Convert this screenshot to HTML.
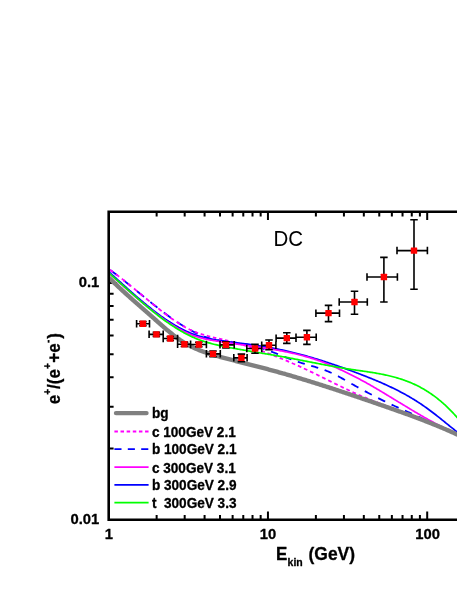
<!DOCTYPE html>
<html><head><meta charset="utf-8"><title>DC positron fraction</title>
<style>
html,body{margin:0;padding:0;background:#fff;}
body{width:457px;height:591px;overflow:hidden;font-family:"Liberation Sans",sans-serif;}
svg{display:block;}
text{font-family:"Liberation Sans",sans-serif;fill:#000;}
.tk,.lg,.ax,.ax2,.sub,.sup{stroke:#000;stroke-width:0.3px;stroke-linejoin:round;}
.tk{font-size:14.8px;font-weight:bold;}
.lg{font-size:13.6px;font-weight:bold;}
.ax{font-size:17px;font-weight:bold;}
.sub{font-size:10.5px;font-weight:bold;}
.sup{font-size:10px;font-weight:bold;}
.ax2{font-size:17.45px;font-weight:bold;}
.dc{font-size:20.5px;}
</style></head><body>
<svg width="457" height="591" viewBox="0 0 457 591" style="transform:translateZ(0);will-change:transform">
<rect width="457" height="591" fill="#fff"/>
<path d="M156.64 519.80 v-4.90 M156.64 211.70 v4.90 M184.68 519.80 v-4.90 M184.68 211.70 v4.90 M204.58 519.80 v-4.90 M204.58 211.70 v4.90 M220.01 519.80 v-4.90 M220.01 211.70 v4.90 M232.62 519.80 v-4.90 M232.62 211.70 v4.90 M243.28 519.80 v-4.90 M243.28 211.70 v4.90 M252.52 519.80 v-4.90 M252.52 211.70 v4.90 M260.66 519.80 v-4.90 M260.66 211.70 v4.90 M267.95 519.80 v-8.40 M267.95 211.70 v8.40 M315.89 519.80 v-4.90 M315.89 211.70 v4.90 M343.93 519.80 v-4.90 M343.93 211.70 v4.90 M363.83 519.80 v-4.90 M363.83 211.70 v4.90 M379.26 519.80 v-4.90 M379.26 211.70 v4.90 M391.87 519.80 v-4.90 M391.87 211.70 v4.90 M402.53 519.80 v-4.90 M402.53 211.70 v4.90 M411.77 519.80 v-4.90 M411.77 211.70 v4.90 M419.91 519.80 v-4.90 M419.91 211.70 v4.90 M427.20 519.80 v-8.40 M427.20 211.70 v8.40 M108.70 448.52 h4.90 M108.70 406.82 h4.90 M108.70 377.23 h4.90 M108.70 354.28 h4.90 M108.70 335.53 h4.90 M108.70 319.68 h4.90 M108.70 305.95 h4.90 M108.70 293.84 h4.90 M108.70 283.00 h8.40" stroke="#000" stroke-width="2.0" fill="none"/>
<clipPath id="cp"><rect x="108.7" y="211.7" width="353.3" height="308.1"/></clipPath>
<g clip-path="url(#cp)" fill="none" stroke-linejoin="round">
<path d="M110.2 270.05 L111.2 270.78 L112.2 271.52 L113.2 272.27 L114.2 273.03 L115.2 273.78 L116.2 274.55 L117.2 275.31 M123.6 280.32 L124.6 281.11 L125.6 281.91 L126.6 282.71 L127.6 283.52 L128.6 284.32 L129.6 285.13 L130.6 285.94 M137.0 291.15 L138.0 291.97 L139.0 292.78 L140.0 293.60 L141.0 294.42 L142.0 295.23 L143.0 296.05 L144.0 296.86 M150.4 302.04 L151.4 302.85 L152.4 303.65 L153.4 304.44 L154.4 305.24 L155.4 306.03 L156.4 306.81 L157.4 307.60 M163.8 312.52 L164.8 313.27 L165.8 314.01 L166.8 314.75 L167.8 315.49 L168.8 316.22 L169.8 316.94 L170.8 317.66 M177.2 322.08 L178.2 322.74 L179.2 323.40 L180.2 324.04 L181.2 324.68 L182.2 325.31 L183.2 325.93 L184.2 326.54 M190.6 330.24 L191.6 330.77 L192.6 331.30 L193.6 331.82 L194.6 332.33 L195.6 332.82 L196.6 333.30 L197.6 333.77 M204.0 336.48 L205.0 336.85 L206.0 337.21 L207.0 337.55 L208.0 337.88 L209.0 338.19 L210.0 338.49 L211.0 338.77 M217.4 340.26 L218.4 340.45 L219.4 340.62 L220.4 340.79 L221.4 340.95 L222.4 341.11 L223.4 341.25 L224.4 341.39 M230.8 342.18 L231.8 342.29 L232.8 342.41 L233.8 342.52 L234.8 342.63 L235.8 342.75 L236.8 342.86 L237.8 342.98 M244.2 343.86 L245.2 344.03 L246.2 344.20 L247.2 344.38 L248.2 344.57 L249.2 344.77 L250.2 344.98 L251.2 345.20 M257.6 346.89 L258.6 347.19 L259.6 347.50 L260.6 347.81 L261.6 348.14 L262.6 348.47 L263.6 348.81 L264.6 349.15 M271.0 351.49 L272.0 351.87 L273.0 352.25 L274.0 352.64 L275.0 353.03 L276.0 353.42 L277.0 353.82 L278.0 354.21 M284.4 356.75 L285.4 357.15 L286.4 357.54 L287.4 357.93 L288.4 358.32 L289.4 358.70 L290.4 359.08 L291.4 359.46 M297.8 361.75 L298.8 362.09 L299.8 362.42 L300.8 362.74 L301.8 363.06 L302.8 363.36 L303.8 363.67 L304.8 363.97 M311.2 365.82 L312.2 366.11 L313.2 366.40 L314.2 366.69 L315.2 366.98 L316.2 367.28 L317.2 367.59 L318.2 367.90 M324.6 370.06 L325.6 370.43 L326.6 370.82 L327.6 371.22 L328.6 371.63 L329.6 372.05 L330.6 372.49 L331.6 372.95 M338.0 376.16 L339.0 376.69 L340.0 377.24 L341.0 377.79 L342.0 378.35 L343.0 378.91 L344.0 379.47 L345.0 380.04 M351.4 383.70 L352.4 384.27 L353.4 384.83 L354.4 385.39 L355.4 385.95 L356.4 386.51 L357.4 387.06 L358.4 387.62 M364.8 391.10 L365.8 391.64 L366.8 392.17 L367.8 392.70 L368.8 393.23 L369.8 393.76 L370.8 394.28 L371.8 394.81 M378.2 398.09 L379.2 398.59 L380.2 399.09 L381.2 399.59 L382.2 400.08 L383.2 400.58 L384.2 401.07 L385.2 401.55 M391.6 404.61 L392.6 405.08 L393.6 405.54 L394.6 406.00 L395.6 406.46 L396.6 406.92 L397.6 407.37 L398.6 407.82 M405.0 410.67 L406.0 411.11 L407.0 411.55 L408.0 411.99 L409.0 412.43 L410.0 412.87 L411.0 413.31 L412.0 413.75 M418.4 416.64 L419.4 417.10 L420.4 417.56 L421.4 418.03 L422.4 418.51 L423.4 418.98 L424.4 419.47 L425.4 419.95 M431.8 423.19 L432.8 423.70 L433.8 424.21 L434.8 424.72 L435.8 425.22 L436.8 425.71 L437.8 426.20 L438.8 426.68" stroke="#0000ff" stroke-width="1.8"/>
<path d="M109.7 269.70 L110.8 270.50 L112.0 271.32 L113.1 272.14 M115.8 274.12 L116.9 274.97 L118.0 275.83 L119.2 276.69 M121.8 278.76 L123.0 279.65 L124.1 280.54 L125.2 281.44 M127.9 283.57 L129.0 284.49 L130.2 285.41 L131.3 286.33 M134.0 288.51 L135.1 289.44 L136.2 290.37 L137.4 291.31 M140.0 293.51 L141.2 294.45 L142.3 295.39 L143.4 296.32 M146.1 298.53 L147.3 299.46 L148.4 300.40 L149.5 301.33 M152.2 303.51 L153.3 304.43 L154.5 305.35 L155.6 306.26 M158.3 308.40 L159.4 309.30 L160.5 310.19 L161.7 311.08 M164.3 313.15 L165.5 314.01 L166.6 314.87 L167.7 315.71 M170.4 317.67 L171.5 318.48 L172.7 319.28 L173.8 320.07 M176.5 321.88 L177.6 322.62 L178.7 323.35 L179.9 324.06 M182.5 325.68 L183.7 326.34 L184.8 326.98 L185.9 327.60 M188.6 328.98 L189.7 329.53 L190.9 330.07 L192.0 330.58 M194.7 331.71 L195.8 332.16 L196.9 332.59 L198.1 333.00 M200.7 333.92 L201.9 334.29 L203.0 334.64 L204.1 334.98 M206.8 335.74 L208.0 336.05 L209.1 336.34 L210.2 336.63 M212.9 337.29 L214.0 337.56 L215.2 337.83 L216.3 338.09 M219.0 338.70 L220.1 338.96 L221.2 339.22 L222.4 339.48 M225.0 340.09 L226.2 340.36 L227.3 340.63 L228.4 340.91 M231.1 341.58 L232.2 341.87 L233.4 342.17 L234.5 342.47 M237.2 343.20 L238.3 343.52 L239.4 343.84 L240.6 344.16 M243.2 344.94 L244.4 345.28 L245.5 345.63 L246.6 345.98 M249.3 346.81 L250.4 347.17 L251.6 347.54 L252.7 347.91 M255.4 348.80 L256.5 349.18 L257.6 349.57 L258.8 349.96 M261.4 350.90 L262.6 351.30 L263.7 351.71 L264.8 352.12 M267.5 353.11 L268.7 353.53 L269.8 353.96 L270.9 354.39 M273.6 355.42 L274.7 355.87 L275.9 356.32 L277.0 356.77 M279.7 357.84 L280.8 358.31 L281.9 358.77 L283.1 359.24 M285.7 360.36 L286.9 360.84 L288.0 361.32 L289.1 361.81 M291.8 362.97 L292.9 363.47 L294.1 363.97 L295.2 364.47 M297.9 365.67 L299.0 366.18 L300.1 366.70 L301.3 367.22 M303.9 368.45 L305.1 368.98 L306.2 369.51 L307.3 370.05 M310.0 371.32 L311.1 371.86 L312.3 372.41 L313.4 372.96 M316.1 374.26 L317.2 374.81 L318.3 375.37 L319.5 375.93 M322.1 377.25 L323.3 377.81 L324.4 378.37 L325.5 378.94 M328.2 380.26 L329.4 380.83 L330.5 381.39 L331.6 381.95 M334.3 383.28 L335.4 383.84 L336.6 384.40 L337.7 384.95 M340.4 386.26 L341.5 386.81 L342.6 387.36 L343.8 387.91 M346.4 389.19 L347.6 389.73 L348.7 390.27 L349.8 390.80 M352.5 392.04 L353.6 392.57 L354.8 393.08 L355.9 393.60 M358.6 394.79 L359.7 395.29 L360.8 395.78 L362.0 396.27 M364.6 397.40 L365.8 397.87 L366.9 398.34 L368.0 398.80 M370.7 399.87 L371.8 400.31 L373.0 400.75 L374.1 401.19 M376.8 402.21 L377.9 402.64 L379.0 403.07 L380.2 403.49 M382.8 404.48 L384.0 404.90 L385.1 405.31 L386.2 405.73 M388.9 406.71 L390.1 407.13 L391.2 407.55 L392.3 407.96 M395.0 408.95 L396.1 409.38 L397.3 409.80 L398.4 410.23 M401.1 411.25 L402.2 411.68 L403.3 412.12 L404.5 412.57 M407.1 413.63 L408.3 414.09 L409.4 414.56 L410.5 415.03" stroke="#ff00ff" stroke-width="1.8"/>
<path d="M108.7 271.64 L109.7 272.55 L110.7 273.45 L111.7 274.36 L112.7 275.26 L113.7 276.17 L114.7 277.07 L115.7 277.98 L116.7 278.88 L117.7 279.79 L118.7 280.69 L119.7 281.59 L120.7 282.50 L121.7 283.40 L122.7 284.30 L123.7 285.19 L124.7 286.09 L125.7 286.99 L126.7 287.88 L127.7 288.77 L128.7 289.66 L129.7 290.54 L130.7 291.43 L131.7 292.31 L132.7 293.19 L133.7 294.06 L134.7 294.93 L135.7 295.80 L136.7 296.66 L137.7 297.52 L138.7 298.38 L139.7 299.23 L140.7 300.08 L141.7 300.92 L142.7 301.76 L143.7 302.60 L144.7 303.42 L145.7 304.25 L146.7 305.07 L147.7 305.88 L148.7 306.69 L149.7 307.49 L150.7 308.28 L151.7 309.07 L152.7 309.85 L153.7 310.63 L154.7 311.40 L155.7 312.16 L156.7 312.92 L157.7 313.66 L158.7 314.40 L159.7 315.14 L160.7 315.86 L161.7 316.58 L162.7 317.29 L163.7 317.99 L164.7 318.68 L165.7 319.37 L166.7 320.04 L167.8 320.71 L168.8 321.37 L169.8 322.01 L170.8 322.65 L171.8 323.28 L172.8 323.90 L173.8 324.51 L174.8 325.11 L175.8 325.70 L176.8 326.28 L177.8 326.85 L178.8 327.40 L179.8 327.95 L180.8 328.48 L181.8 329.01 L182.8 329.52 L183.8 330.02 L184.8 330.51 L185.8 330.99 L186.8 331.45 L187.8 331.90 L188.8 332.34 L189.8 332.77 L190.8 333.18 L191.8 333.59 L192.8 333.97 L193.8 334.35 L194.8 334.71 L195.8 335.06 L196.8 335.39 L197.8 335.71 L198.8 336.02 L199.8 336.32 L200.8 336.61 L201.8 336.88 L202.8 337.14 L203.8 337.40 L204.8 337.64 L205.8 337.88 L206.8 338.11 L207.8 338.32 L208.8 338.54 L209.8 338.74 L210.8 338.94 L211.8 339.13 L212.8 339.31 L213.8 339.49 L214.8 339.67 L215.8 339.84 L216.8 340.00 L217.8 340.16 L218.8 340.32 L219.8 340.48 L220.8 340.63 L221.8 340.78 L222.8 340.92 L223.8 341.07 L224.8 341.21 L225.8 341.34 L226.8 341.48 L227.8 341.61 L228.8 341.74 L229.8 341.87 L230.8 342.00 L231.8 342.13 L232.8 342.25 L233.8 342.38 L234.8 342.50 L235.8 342.63 L236.8 342.75 L237.8 342.87 L238.8 343.00 L239.8 343.12 L240.8 343.24 L241.8 343.37 L242.8 343.49 L243.8 343.62 L244.8 343.75 L245.8 343.87 L246.8 344.00 L247.8 344.14 L248.8 344.27 L249.8 344.40 L250.8 344.54 L251.8 344.68 L252.8 344.82 L253.8 344.97 L254.8 345.11 L255.8 345.26 L256.8 345.41 L257.8 345.56 L258.8 345.72 L259.8 345.87 L260.8 346.03 L261.8 346.19 L262.8 346.36 L263.8 346.52 L264.8 346.69 L265.8 346.86 L266.8 347.03 L267.8 347.21 L268.8 347.39 L269.8 347.57 L270.8 347.75 L271.8 347.94 L272.8 348.12 L273.8 348.31 L274.8 348.51 L275.8 348.70 L276.8 348.90 L277.8 349.10 L278.8 349.31 L279.8 349.52 L280.8 349.73 L281.8 349.94 L282.8 350.15 L283.9 350.37 L284.9 350.59 L285.9 350.82 L286.9 351.04 L287.9 351.27 L288.9 351.51 L289.9 351.74 L290.9 351.98 L291.9 352.22 L292.9 352.47 L293.9 352.72 L294.9 352.97 L295.9 353.22 L296.9 353.47 L297.9 353.73 L298.9 353.99 L299.9 354.26 L300.9 354.52 L301.9 354.79 L302.9 355.06 L303.9 355.33 L304.9 355.61 L305.9 355.89 L306.9 356.17 L307.9 356.45 L308.9 356.74 L309.9 357.03 L310.9 357.32 L311.9 357.61 L312.9 357.91 L313.9 358.21 L314.9 358.51 L315.9 358.81 L316.9 359.12 L317.9 359.42 L318.9 359.73 L319.9 360.04 L320.9 360.36 L321.9 360.67 L322.9 360.99 L323.9 361.31 L324.9 361.64 L325.9 361.96 L326.9 362.29 L327.9 362.62 L328.9 362.95 L329.9 363.28 L330.9 363.61 L331.9 363.95 L332.9 364.29 L333.9 364.63 L334.9 364.97 L335.9 365.32 L336.9 365.66 L337.9 366.01 L338.9 366.36 L339.9 366.71 L340.9 367.06 L341.9 367.42 L342.9 367.77 L343.9 368.13 L344.9 368.49 L345.9 368.85 L346.9 369.22 L347.9 369.58 L348.9 369.95 L349.9 370.32 L350.9 370.69 L351.9 371.06 L352.9 371.43 L353.9 371.80 L354.9 372.18 L355.9 372.55 L356.9 372.93 L357.9 373.31 L358.9 373.69 L359.9 374.08 L360.9 374.46 L361.9 374.84 L362.9 375.23 L363.9 375.62 L364.9 376.01 L365.9 376.40 L366.9 376.79 L367.9 377.19 L368.9 377.59 L369.9 377.99 L370.9 378.39 L371.9 378.80 L372.9 379.20 L373.9 379.62 L374.9 380.03 L375.9 380.45 L376.9 380.87 L377.9 381.29 L378.9 381.71 L379.9 382.14 L380.9 382.58 L381.9 383.01 L382.9 383.45 L383.9 383.90 L384.9 384.35 L385.9 384.80 L386.9 385.26 L387.9 385.72 L388.9 386.18 L389.9 386.65 L390.9 387.13 L391.9 387.61 L392.9 388.09 L393.9 388.58 L394.9 389.07 L395.9 389.57 L396.9 390.08 L397.9 390.59 L398.9 391.10 L400.0 391.63 L401.0 392.15 L402.0 392.69 L403.0 393.23 L404.0 393.77 L405.0 394.32 L406.0 394.88 L407.0 395.44 L408.0 396.01 L409.0 396.59 L410.0 397.18 L411.0 397.77 L412.0 398.36 L413.0 398.97 L414.0 399.58 L415.0 400.20 L416.0 400.83 L417.0 401.46 L418.0 402.11 L419.0 402.76 L420.0 403.41 L421.0 404.08 L422.0 404.75 L423.0 405.44 L424.0 406.13 L425.0 406.83 L426.0 407.53 L427.0 408.25 L428.0 408.98 L429.0 409.71 L430.0 410.45 L431.0 411.20 L432.0 411.96 L433.0 412.72 L434.0 413.49 L435.0 414.26 L436.0 415.04 L437.0 415.83 L438.0 416.62 L439.0 417.41 L440.0 418.21 L441.0 419.01 L442.0 419.81 L443.0 420.62 L444.0 421.43 L445.0 422.23 L446.0 423.04 L447.0 423.86 L448.0 424.67 L449.0 425.48 L450.0 426.29 L451.0 427.10 L452.0 427.91 L453.0 428.71 L454.0 429.52 L455.0 430.32 L456.0 431.12 L457.0 431.91 L458.0 432.70" stroke="#0000ff" stroke-width="1.7"/>
<path d="M108.7 272.83 L109.7 273.75 L110.7 274.68 L111.7 275.60 L112.7 276.52 L113.7 277.43 L114.7 278.35 L115.7 279.27 L116.7 280.18 L117.7 281.09 L118.7 282.00 L119.7 282.91 L120.7 283.81 L121.7 284.72 L122.7 285.62 L123.7 286.52 L124.7 287.41 L125.7 288.31 L126.7 289.20 L127.7 290.08 L128.7 290.97 L129.7 291.85 L130.7 292.73 L131.7 293.60 L132.7 294.47 L133.7 295.34 L134.7 296.21 L135.7 297.07 L136.7 297.92 L137.7 298.78 L138.7 299.62 L139.7 300.47 L140.7 301.31 L141.7 302.14 L142.7 302.97 L143.7 303.80 L144.7 304.62 L145.7 305.44 L146.7 306.25 L147.7 307.05 L148.7 307.86 L149.7 308.65 L150.7 309.44 L151.7 310.23 L152.7 311.00 L153.7 311.78 L154.7 312.54 L155.7 313.31 L156.7 314.06 L157.7 314.81 L158.7 315.55 L159.7 316.29 L160.7 317.02 L161.7 317.74 L162.7 318.46 L163.7 319.16 L164.7 319.87 L165.7 320.56 L166.8 321.24 L167.8 321.92 L168.8 322.59 L169.8 323.25 L170.8 323.90 L171.8 324.54 L172.8 325.17 L173.8 325.79 L174.8 326.40 L175.8 327.00 L176.8 327.59 L177.8 328.17 L178.8 328.74 L179.8 329.29 L180.8 329.84 L181.8 330.37 L182.8 330.89 L183.8 331.40 L184.8 331.89 L185.8 332.37 L186.8 332.84 L187.8 333.30 L188.8 333.74 L189.8 334.17 L190.8 334.58 L191.8 334.98 L192.8 335.36 L193.8 335.73 L194.8 336.08 L195.8 336.42 L196.8 336.74 L197.8 337.05 L198.8 337.34 L199.8 337.62 L200.8 337.89 L201.8 338.15 L202.8 338.40 L203.8 338.63 L204.8 338.86 L205.8 339.07 L206.8 339.28 L207.8 339.49 L208.8 339.68 L209.8 339.87 L210.8 340.05 L211.8 340.23 L212.8 340.41 L213.8 340.58 L214.8 340.75 L215.8 340.91 L216.8 341.08 L217.8 341.24 L218.8 341.40 L219.8 341.56 L220.8 341.72 L221.8 341.88 L222.8 342.04 L223.8 342.19 L224.8 342.34 L225.8 342.50 L226.8 342.65 L227.8 342.80 L228.8 342.95 L229.8 343.09 L230.8 343.24 L231.8 343.39 L232.8 343.53 L233.8 343.68 L234.8 343.82 L235.8 343.96 L236.8 344.11 L237.8 344.25 L238.8 344.39 L239.8 344.53 L240.8 344.67 L241.8 344.81 L242.8 344.95 L243.8 345.10 L244.8 345.24 L245.8 345.38 L246.8 345.52 L247.8 345.66 L248.8 345.80 L249.8 345.94 L250.8 346.08 L251.8 346.22 L252.8 346.36 L253.8 346.50 L254.8 346.65 L255.8 346.79 L256.8 346.93 L257.8 347.08 L258.8 347.22 L259.8 347.37 L260.8 347.52 L261.8 347.67 L262.8 347.82 L263.8 347.97 L264.8 348.12 L265.8 348.28 L266.8 348.43 L267.8 348.59 L268.8 348.75 L269.8 348.91 L270.8 349.07 L271.8 349.24 L272.8 349.41 L273.8 349.58 L274.8 349.75 L275.8 349.92 L276.8 350.10 L277.8 350.28 L278.8 350.46 L279.8 350.64 L280.8 350.83 L281.8 351.02 L282.9 351.21 L283.9 351.40 L284.9 351.60 L285.9 351.80 L286.9 352.00 L287.9 352.21 L288.9 352.42 L289.9 352.64 L290.9 352.85 L291.9 353.08 L292.9 353.30 L293.9 353.53 L294.9 353.76 L295.9 354.00 L296.9 354.24 L297.9 354.48 L298.9 354.73 L299.9 354.98 L300.9 355.24 L301.9 355.50 L302.9 355.77 L303.9 356.04 L304.9 356.31 L305.9 356.59 L306.9 356.88 L307.9 357.17 L308.9 357.46 L309.9 357.76 L310.9 358.07 L311.9 358.38 L312.9 358.69 L313.9 359.01 L314.9 359.34 L315.9 359.67 L316.9 360.01 L317.9 360.35 L318.9 360.70 L319.9 361.06 L320.9 361.42 L321.9 361.79 L322.9 362.16 L323.9 362.54 L324.9 362.92 L325.9 363.32 L326.9 363.72 L327.9 364.12 L328.9 364.53 L329.9 364.95 L330.9 365.37 L331.9 365.80 L332.9 366.23 L333.9 366.67 L334.9 367.11 L335.9 367.56 L336.9 368.01 L337.9 368.47 L338.9 368.93 L339.9 369.39 L340.9 369.86 L341.9 370.33 L342.9 370.81 L343.9 371.29 L344.9 371.77 L345.9 372.26 L346.9 372.75 L347.9 373.24 L348.9 373.73 L349.9 374.23 L350.9 374.73 L351.9 375.23 L352.9 375.73 L353.9 376.24 L354.9 376.75 L355.9 377.26 L356.9 377.78 L357.9 378.30 L358.9 378.82 L359.9 379.35 L360.9 379.88 L361.9 380.42 L362.9 380.96 L363.9 381.51 L364.9 382.06 L365.9 382.61 L366.9 383.17 L367.9 383.73 L368.9 384.29 L369.9 384.86 L370.9 385.43 L371.9 386.00 L372.9 386.58 L373.9 387.16 L374.9 387.74 L375.9 388.33 L376.9 388.91 L377.9 389.50 L378.9 390.09 L379.9 390.69 L380.9 391.28 L381.9 391.88 L382.9 392.48 L383.9 393.08 L384.9 393.69 L385.9 394.29 L386.9 394.90 L387.9 395.50 L388.9 396.11 L389.9 396.72 L390.9 397.33 L391.9 397.94 L392.9 398.55 L393.9 399.16 L394.9 399.78 L395.9 400.39 L396.9 401.00 L397.9 401.61 L398.9 402.22 L400.0 402.84 L401.0 403.45 L402.0 404.06 L403.0 404.67 L404.0 405.28 L405.0 405.89 L406.0 406.50 L407.0 407.10 L408.0 407.71 L409.0 408.31 L410.0 408.92 L411.0 409.52 L412.0 410.12 L413.0 410.71 L414.0 411.31 L415.0 411.90 L416.0 412.50 L417.0 413.09 L418.0 413.67 L419.0 414.26 L420.0 414.84 L421.0 415.42 L422.0 415.99 L423.0 416.57 L424.0 417.14 L425.0 417.70 L426.0 418.27 L427.0 418.83 L428.0 419.38 L429.0 419.94 L430.0 420.49 L431.0 421.03 L432.0 421.57 L433.0 422.11 L434.0 422.64 L435.0 423.17 L436.0 423.69 L437.0 424.21 L438.0 424.73 L439.0 425.23 L440.0 425.74 L441.0 426.24 L442.0 426.73 L443.0 427.22 L444.0 427.70 L445.0 428.18 L446.0 428.65 L447.0 429.12 L448.0 429.58 L449.0 430.03 L450.0 430.48 L451.0 430.92 L452.0 431.35 L453.0 431.78 L454.0 432.20 L455.0 432.61 L456.0 433.02 L457.0 433.42" stroke="#ff00ff" stroke-width="1.7"/>
<path d="M108.7 272.89 L109.7 273.77 L110.7 274.65 L111.7 275.52 L112.7 276.41 L113.7 277.29 L114.7 278.17 L115.7 279.06 L116.7 279.95 L117.7 280.84 L118.7 281.73 L119.7 282.62 L120.7 283.51 L121.7 284.41 L122.7 285.30 L123.7 286.19 L124.7 287.09 L125.7 287.98 L126.7 288.87 L127.7 289.76 L128.7 290.65 L129.7 291.54 L130.7 292.43 L131.7 293.32 L132.7 294.20 L133.7 295.09 L134.7 295.97 L135.7 296.85 L136.7 297.72 L137.7 298.60 L138.7 299.47 L139.7 300.34 L140.7 301.20 L141.7 302.06 L142.7 302.92 L143.7 303.78 L144.7 304.63 L145.7 305.47 L146.7 306.31 L147.7 307.15 L148.7 307.98 L149.7 308.81 L150.7 309.63 L151.7 310.45 L152.7 311.26 L153.7 312.06 L154.7 312.86 L155.7 313.65 L156.7 314.44 L157.7 315.22 L158.7 315.99 L159.7 316.76 L160.7 317.52 L161.7 318.27 L162.7 319.01 L163.7 319.75 L164.7 320.48 L165.7 321.20 L166.7 321.91 L167.8 322.61 L168.8 323.31 L169.8 324.00 L170.8 324.68 L171.8 325.35 L172.8 326.01 L173.8 326.66 L174.8 327.30 L175.8 327.94 L176.8 328.56 L177.8 329.18 L178.8 329.78 L179.8 330.38 L180.8 330.96 L181.8 331.54 L182.8 332.10 L183.8 332.66 L184.8 333.20 L185.8 333.73 L186.8 334.25 L187.8 334.77 L188.8 335.27 L189.8 335.75 L190.8 336.23 L191.8 336.70 L192.8 337.15 L193.8 337.59 L194.8 338.02 L195.8 338.44 L196.8 338.84 L197.8 339.24 L198.8 339.62 L199.8 339.99 L200.8 340.35 L201.8 340.70 L202.8 341.04 L203.8 341.37 L204.8 341.69 L205.8 342.00 L206.8 342.31 L207.8 342.60 L208.8 342.89 L209.8 343.17 L210.8 343.44 L211.8 343.70 L212.8 343.96 L213.8 344.21 L214.8 344.46 L215.8 344.70 L216.8 344.93 L217.8 345.16 L218.8 345.38 L219.8 345.60 L220.8 345.81 L221.8 346.02 L222.8 346.23 L223.8 346.43 L224.8 346.63 L225.8 346.83 L226.8 347.02 L227.8 347.22 L228.8 347.41 L229.8 347.60 L230.8 347.79 L231.8 347.97 L232.8 348.16 L233.8 348.34 L234.8 348.52 L235.8 348.70 L236.8 348.88 L237.8 349.06 L238.8 349.24 L239.8 349.42 L240.8 349.59 L241.8 349.77 L242.8 349.94 L243.8 350.11 L244.8 350.28 L245.8 350.46 L246.8 350.63 L247.8 350.80 L248.8 350.97 L249.8 351.13 L250.8 351.30 L251.8 351.47 L252.8 351.64 L253.8 351.80 L254.8 351.97 L255.8 352.14 L256.8 352.31 L257.8 352.47 L258.8 352.64 L259.8 352.81 L260.8 352.97 L261.8 353.14 L262.8 353.31 L263.8 353.47 L264.8 353.64 L265.8 353.81 L266.8 353.98 L267.8 354.15 L268.8 354.32 L269.8 354.49 L270.8 354.66 L271.8 354.83 L272.8 355.00 L273.8 355.17 L274.8 355.35 L275.8 355.52 L276.8 355.70 L277.8 355.88 L278.8 356.05 L279.8 356.23 L280.8 356.41 L281.8 356.59 L282.8 356.78 L283.9 356.96 L284.9 357.15 L285.9 357.33 L286.9 357.52 L287.9 357.71 L288.9 357.89 L289.9 358.08 L290.9 358.27 L291.9 358.46 L292.9 358.66 L293.9 358.85 L294.9 359.04 L295.9 359.23 L296.9 359.43 L297.9 359.62 L298.9 359.82 L299.9 360.01 L300.9 360.21 L301.9 360.40 L302.9 360.60 L303.9 360.79 L304.9 360.99 L305.9 361.18 L306.9 361.38 L307.9 361.58 L308.9 361.77 L309.9 361.97 L310.9 362.16 L311.9 362.36 L312.9 362.56 L313.9 362.75 L314.9 362.94 L315.9 363.14 L316.9 363.33 L317.9 363.53 L318.9 363.72 L319.9 363.91 L320.9 364.10 L321.9 364.29 L322.9 364.48 L323.9 364.67 L324.9 364.86 L325.9 365.05 L326.9 365.24 L327.9 365.42 L328.9 365.61 L329.9 365.79 L330.9 365.98 L331.9 366.16 L332.9 366.34 L333.9 366.52 L334.9 366.70 L335.9 366.87 L336.9 367.05 L337.9 367.22 L338.9 367.40 L339.9 367.57 L340.9 367.74 L341.9 367.91 L342.9 368.07 L343.9 368.24 L344.9 368.40 L345.9 368.56 L346.9 368.72 L347.9 368.88 L348.9 369.04 L349.9 369.19 L350.9 369.34 L351.9 369.50 L352.9 369.64 L353.9 369.79 L354.9 369.94 L355.9 370.08 L356.9 370.23 L357.9 370.37 L358.9 370.52 L359.9 370.66 L360.9 370.80 L361.9 370.95 L362.9 371.09 L363.9 371.24 L364.9 371.38 L365.9 371.53 L366.9 371.68 L367.9 371.83 L368.9 371.98 L369.9 372.14 L370.9 372.29 L371.9 372.45 L372.9 372.62 L373.9 372.78 L374.9 372.95 L375.9 373.12 L376.9 373.29 L377.9 373.47 L378.9 373.65 L379.9 373.84 L380.9 374.03 L381.9 374.23 L382.9 374.43 L383.9 374.63 L384.9 374.84 L385.9 375.06 L386.9 375.28 L387.9 375.50 L388.9 375.74 L389.9 375.98 L390.9 376.22 L391.9 376.47 L392.9 376.73 L393.9 377.00 L394.9 377.27 L395.9 377.55 L396.9 377.84 L397.9 378.14 L398.9 378.44 L400.0 378.76 L401.0 379.08 L402.0 379.41 L403.0 379.75 L404.0 380.10 L405.0 380.46 L406.0 380.83 L407.0 381.20 L408.0 381.59 L409.0 381.99 L410.0 382.40 L411.0 382.82 L412.0 383.25 L413.0 383.69 L414.0 384.14 L415.0 384.61 L416.0 385.09 L417.0 385.57 L418.0 386.08 L419.0 386.59 L420.0 387.11 L421.0 387.65 L422.0 388.20 L423.0 388.77 L424.0 389.35 L425.0 389.94 L426.0 390.55 L427.0 391.17 L428.0 391.80 L429.0 392.45 L430.0 393.12 L431.0 393.80 L432.0 394.49 L433.0 395.20 L434.0 395.93 L435.0 396.67 L436.0 397.42 L437.0 398.20 L438.0 398.99 L439.0 399.80 L440.0 400.62 L441.0 401.46 L442.0 402.32 L443.0 403.19 L444.0 404.08 L445.0 404.99 L446.0 405.92 L447.0 406.86 L448.0 407.83 L449.0 408.81 L450.0 409.81 L451.0 410.82 L452.0 411.86 L453.0 412.92 L454.0 413.99 L455.0 415.08 L456.0 416.19 L457.0 417.32 L458.0 418.47" stroke="#00ff00" stroke-width="1.7"/>
<path d="M108.7 277.45 L109.7 278.44 L110.7 279.43 L111.7 280.40 L112.7 281.37 L113.7 282.34 L114.7 283.30 L115.7 284.25 L116.7 285.20 L117.7 286.14 L118.7 287.08 L119.7 288.01 L120.7 288.94 L121.7 289.86 L122.7 290.78 L123.7 291.70 L124.7 292.61 L125.7 293.51 L126.7 294.42 L127.7 295.32 L128.7 296.21 L129.7 297.11 L130.7 298.00 L131.7 298.89 L132.7 299.78 L133.7 300.66 L134.7 301.54 L135.7 302.42 L136.7 303.30 L137.7 304.18 L138.7 305.06 L139.7 305.94 L140.7 306.81 L141.7 307.69 L142.7 308.56 L143.7 309.44 L144.7 310.31 L145.7 311.19 L146.7 312.06 L147.7 312.94 L148.7 313.82 L149.7 314.70 L150.7 315.58 L151.7 316.46 L152.7 317.34 L153.7 318.23 L154.7 319.11 L155.7 320.00 L156.7 320.89 L157.7 321.78 L158.7 322.67 L159.7 323.56 L160.7 324.45 L161.7 325.33 L162.7 326.21 L163.7 327.09 L164.7 327.96 L165.7 328.82 L166.7 329.68 L167.8 330.53 L168.8 331.37 L169.8 332.20 L170.8 333.02 L171.8 333.83 L172.8 334.63 L173.8 335.42 L174.8 336.19 L175.8 336.95 L176.8 337.69 L177.8 338.42 L178.8 339.13 L179.8 339.82 L180.8 340.50 L181.8 341.15 L182.8 341.79 L183.8 342.41 L184.8 343.02 L185.8 343.60 L186.8 344.18 L187.8 344.73 L188.8 345.27 L189.8 345.80 L190.8 346.31 L191.8 346.81 L192.8 347.29 L193.8 347.76 L194.8 348.22 L195.8 348.67 L196.8 349.10 L197.8 349.52 L198.8 349.93 L199.8 350.34 L200.8 350.73 L201.8 351.11 L202.8 351.48 L203.8 351.84 L204.8 352.20 L205.8 352.54 L206.8 352.88 L207.8 353.21 L208.8 353.53 L209.8 353.85 L210.8 354.16 L211.8 354.47 L212.8 354.77 L213.8 355.07 L214.8 355.36 L215.8 355.65 L216.8 355.93 L217.8 356.21 L218.8 356.49 L219.8 356.77 L220.8 357.04 L221.8 357.32 L222.8 357.59 L223.8 357.86 L224.8 358.13 L225.8 358.39 L226.8 358.66 L227.8 358.92 L228.8 359.19 L229.8 359.45 L230.8 359.71 L231.8 359.97 L232.8 360.23 L233.8 360.49 L234.8 360.74 L235.8 361.00 L236.8 361.26 L237.8 361.51 L238.8 361.77 L239.8 362.02 L240.8 362.28 L241.8 362.53 L242.8 362.78 L243.8 363.04 L244.8 363.29 L245.8 363.54 L246.8 363.80 L247.8 364.05 L248.8 364.30 L249.8 364.56 L250.8 364.81 L251.8 365.06 L252.8 365.32 L253.8 365.57 L254.8 365.83 L255.8 366.09 L256.8 366.34 L257.8 366.60 L258.8 366.86 L259.8 367.12 L260.8 367.38 L261.8 367.64 L262.8 367.91 L263.8 368.17 L264.8 368.43 L265.8 368.70 L266.8 368.97 L267.8 369.24 L268.8 369.51 L269.8 369.78 L270.8 370.05 L271.8 370.32 L272.8 370.60 L273.8 370.87 L274.8 371.15 L275.8 371.43 L276.8 371.70 L277.8 371.98 L278.8 372.26 L279.8 372.55 L280.8 372.83 L281.8 373.11 L282.8 373.40 L283.9 373.68 L284.9 373.97 L285.9 374.26 L286.9 374.55 L287.9 374.84 L288.9 375.13 L289.9 375.42 L290.9 375.71 L291.9 376.00 L292.9 376.30 L293.9 376.60 L294.9 376.89 L295.9 377.19 L296.9 377.49 L297.9 377.79 L298.9 378.09 L299.9 378.39 L300.9 378.69 L301.9 378.99 L302.9 379.30 L303.9 379.60 L304.9 379.91 L305.9 380.21 L306.9 380.52 L307.9 380.83 L308.9 381.14 L309.9 381.45 L310.9 381.76 L311.9 382.07 L312.9 382.38 L313.9 382.69 L314.9 383.01 L315.9 383.32 L316.9 383.63 L317.9 383.95 L318.9 384.27 L319.9 384.58 L320.9 384.90 L321.9 385.22 L322.9 385.54 L323.9 385.86 L324.9 386.18 L325.9 386.50 L326.9 386.82 L327.9 387.15 L328.9 387.47 L329.9 387.79 L330.9 388.12 L331.9 388.44 L332.9 388.77 L333.9 389.10 L334.9 389.42 L335.9 389.75 L336.9 390.08 L337.9 390.41 L338.9 390.74 L339.9 391.07 L340.9 391.40 L341.9 391.73 L342.9 392.06 L343.9 392.39 L344.9 392.73 L345.9 393.06 L346.9 393.39 L347.9 393.73 L348.9 394.06 L349.9 394.40 L350.9 394.74 L351.9 395.07 L352.9 395.41 L353.9 395.75 L354.9 396.08 L355.9 396.42 L356.9 396.76 L357.9 397.10 L358.9 397.44 L359.9 397.78 L360.9 398.12 L361.9 398.46 L362.9 398.80 L363.9 399.14 L364.9 399.48 L365.9 399.83 L366.9 400.17 L367.9 400.51 L368.9 400.85 L369.9 401.20 L370.9 401.54 L371.9 401.89 L372.9 402.23 L373.9 402.57 L374.9 402.92 L375.9 403.27 L376.9 403.61 L377.9 403.96 L378.9 404.30 L379.9 404.65 L380.9 405.00 L381.9 405.34 L382.9 405.69 L383.9 406.04 L384.9 406.38 L385.9 406.73 L386.9 407.08 L387.9 407.43 L388.9 407.78 L389.9 408.13 L390.9 408.48 L391.9 408.83 L392.9 409.18 L393.9 409.54 L394.9 409.89 L395.9 410.24 L396.9 410.60 L397.9 410.95 L398.9 411.31 L400.0 411.67 L401.0 412.03 L402.0 412.38 L403.0 412.74 L404.0 413.10 L405.0 413.47 L406.0 413.83 L407.0 414.19 L408.0 414.56 L409.0 414.92 L410.0 415.29 L411.0 415.66 L412.0 416.03 L413.0 416.40 L414.0 416.77 L415.0 417.14 L416.0 417.52 L417.0 417.89 L418.0 418.27 L419.0 418.65 L420.0 419.03 L421.0 419.41 L422.0 419.79 L423.0 420.18 L424.0 420.56 L425.0 420.95 L426.0 421.34 L427.0 421.73 L428.0 422.12 L429.0 422.52 L430.0 422.92 L431.0 423.31 L432.0 423.71 L433.0 424.11 L434.0 424.52 L435.0 424.92 L436.0 425.33 L437.0 425.74 L438.0 426.15 L439.0 426.57 L440.0 426.98 L441.0 427.40 L442.0 427.82 L443.0 428.24 L444.0 428.66 L445.0 429.09 L446.0 429.52 L447.0 429.95 L448.0 430.38 L449.0 430.82 L450.0 431.26 L451.0 431.70 L452.0 432.14 L453.0 432.58 L454.0 433.03 L455.0 433.48 L456.0 433.93 L457.0 434.39 L458.0 434.85" stroke="#808080" stroke-width="4.4"/>
</g>
<path d="M108.70 211.70 H460 M108.70 519.80 H460 M108.70 211.70 V519.80" stroke="#000" fill="none" stroke-width="2.6" stroke-linecap="square"/>
<path d="M136.60 323.73 H149.50 M136.60 319.98 v7.50 M149.50 319.98 v7.50 M142.90 321.61 V325.73 M139.15 321.61 h7.50 M139.15 325.73 h7.50 M149.10 334.34 H163.20 M149.10 330.59 v7.50 M163.20 330.59 v7.50 M156.40 332.33 V336.39 M152.65 332.33 h7.50 M152.65 336.39 h7.50 M163.20 338.49 H177.60 M163.20 334.74 v7.50 M177.60 334.74 v7.50 M170.30 336.57 V340.45 M166.55 336.57 h7.50 M166.55 340.45 h7.50 M177.60 344.30 H190.60 M177.60 340.55 v7.50 M190.60 340.55 v7.50 M184.40 342.08 V346.56 M180.65 342.08 h7.50 M180.65 346.56 h7.50 M190.60 344.48 H206.40 M190.60 340.73 v7.50 M206.40 340.73 v7.50 M198.80 342.26 V346.75 M195.05 342.26 h7.50 M195.05 346.75 h7.50 M206.40 353.87 H220.30 M206.40 350.12 v7.50 M220.30 350.12 v7.50 M213.00 351.04 V356.78 M209.25 351.04 h7.50 M209.25 356.78 h7.50 M220.00 344.86 H234.20 M220.00 341.11 v7.50 M234.20 341.11 v7.50 M225.90 341.90 V347.90 M222.15 341.90 h7.50 M222.15 347.90 h7.50 M233.80 357.84 H247.10 M233.80 354.09 v7.50 M247.10 354.09 v7.50 M241.40 354.08 V361.75 M237.65 354.08 h7.50 M237.65 361.75 h7.50 M246.80 348.49 H261.70 M246.80 344.74 v7.50 M261.70 344.74 v7.50 M255.00 344.40 V353.20 M251.25 344.40 h7.50 M251.25 353.20 h7.50 M261.70 345.23 H275.90 M261.70 341.48 v7.50 M275.90 341.48 v7.50 M269.00 340.00 V349.80 M265.25 340.00 h7.50 M265.25 349.80 h7.50 M276.10 338.14 H296.00 M276.10 334.39 v7.50 M296.00 334.39 v7.50 M286.80 332.80 V343.40 M283.05 332.80 h7.50 M283.05 343.40 h7.50 M296.00 337.26 H316.20 M296.00 333.51 v7.50 M316.20 333.51 v7.50 M306.90 330.40 V344.40 M303.15 330.40 h7.50 M303.15 344.40 h7.50 M315.90 313.14 H339.50 M315.90 309.39 v7.50 M339.50 309.39 v7.50 M328.50 305.40 V321.60 M324.75 305.40 h7.50 M324.75 321.60 h7.50 M339.20 302.04 H367.30 M339.20 298.29 v7.50 M367.30 298.29 v7.50 M354.50 291.20 V314.20 M350.75 291.20 h7.50 M350.75 314.20 h7.50 M367.00 277.01 H397.40 M367.00 273.26 v7.50 M397.40 273.26 v7.50 M383.90 257.40 V302.00 M380.15 257.40 h7.50 M380.15 302.00 h7.50 M397.00 250.62 H427.40 M397.00 246.87 v7.50 M427.40 246.87 v7.50 M414.00 219.80 V289.30 M410.25 219.80 h7.50 M410.25 289.30 h7.50" stroke="#000" stroke-width="1.6" fill="none"/>
<g fill="#ff0000"><rect x="139.70" y="320.53" width="6.4" height="6.4" rx="0.5"/><rect x="153.20" y="331.14" width="6.4" height="6.4" rx="0.5"/><rect x="167.10" y="335.29" width="6.4" height="6.4" rx="0.5"/><rect x="181.20" y="341.10" width="6.4" height="6.4" rx="0.5"/><rect x="195.60" y="341.28" width="6.4" height="6.4" rx="0.5"/><rect x="209.80" y="350.67" width="6.4" height="6.4" rx="0.5"/><rect x="222.70" y="341.66" width="6.4" height="6.4" rx="0.5"/><rect x="238.20" y="354.64" width="6.4" height="6.4" rx="0.5"/><rect x="251.80" y="345.29" width="6.4" height="6.4" rx="0.5"/><rect x="265.80" y="342.03" width="6.4" height="6.4" rx="0.5"/><rect x="283.60" y="334.94" width="6.4" height="6.4" rx="0.5"/><rect x="303.70" y="334.06" width="6.4" height="6.4" rx="0.5"/><rect x="325.30" y="309.94" width="6.4" height="6.4" rx="0.5"/><rect x="351.30" y="298.84" width="6.4" height="6.4" rx="0.5"/><rect x="380.70" y="273.81" width="6.4" height="6.4" rx="0.5"/><rect x="410.80" y="247.42" width="6.4" height="6.4" rx="0.5"/></g>
<path d="M116.0 413.1 H146.5" stroke="#808080" stroke-width="4.4" fill="none" stroke-linecap="round"/>
<path d="M114.4 431.5 H148.6" stroke="#ff00ff" stroke-width="1.8" fill="none" stroke-dasharray="3.5 2.63"/>
<path d="M114.4 449.1 H148.6" stroke="#0000ff" stroke-width="1.8" fill="none" stroke-dasharray="7.1 6.3"/>
<path d="M114.4 467.2 H148.6" stroke="#ff00ff" stroke-width="1.7" fill="none"/>
<path d="M114.4 484.8 H148.6" stroke="#0000ff" stroke-width="1.7" fill="none"/>
<path d="M114.4 502.7 H148.6" stroke="#00ff00" stroke-width="1.7" fill="none"/>
<text transform="translate(151.90 418.40) scale(1 1.040)" class="lg">bg</text>
<text transform="translate(151.90 436.80) scale(1 1.040)" class="lg">c 100GeV 2.1</text>
<text transform="translate(151.90 454.40) scale(1 1.040)" class="lg">b 100GeV 2.1</text>
<text transform="translate(151.90 472.50) scale(1 1.040)" class="lg">c 300GeV 3.1</text>
<text transform="translate(151.90 490.10) scale(1 1.040)" class="lg">b 300GeV 2.9</text>
<text transform="translate(151.90 508.00) scale(1 1.040)" class="lg">t  300GeV 3.3</text>
<text transform="translate(99.30 287.30) scale(1 1.040)" class="tk" text-anchor="end">0.1</text>
<text transform="translate(99.30 523.50) scale(1 1.040)" class="tk" text-anchor="end">0.01</text>
<text transform="translate(108.80 539.40) scale(1 1.040)" class="tk" text-anchor="middle">1</text>
<text transform="translate(267.95 539.40) scale(1 1.040)" class="tk" text-anchor="middle">10</text>
<text transform="translate(427.60 539.40) scale(1 1.040)" class="tk" text-anchor="middle">100</text>
<text transform="translate(273.40 245.50) scale(1 1.040)" class="dc">DC</text>
<text transform="translate(276.00 559.80) scale(1 1.040)" class="ax">E</text>
<text transform="translate(287.60 566.30) scale(1 1.040)" class="sub">kin</text>
<text transform="translate(308.50 559.80) scale(1 1.040)" class="ax2">(GeV)</text>
<text transform="translate(60.00 404.20) rotate(-90) scale(1 1.040)" class="ax">e<tspan class="sup" dy="-8.9">+</tspan><tspan dy="8.9" dx="0">/(e</tspan><tspan class="sup" dy="-8.9">+</tspan><tspan dy="8.9" dx="0.5">+e</tspan><tspan class="sup" dy="-8.9" dx="0.3">-</tspan><tspan dy="8.9" dx="0.9">)</tspan></text>
</svg>
</body></html>
